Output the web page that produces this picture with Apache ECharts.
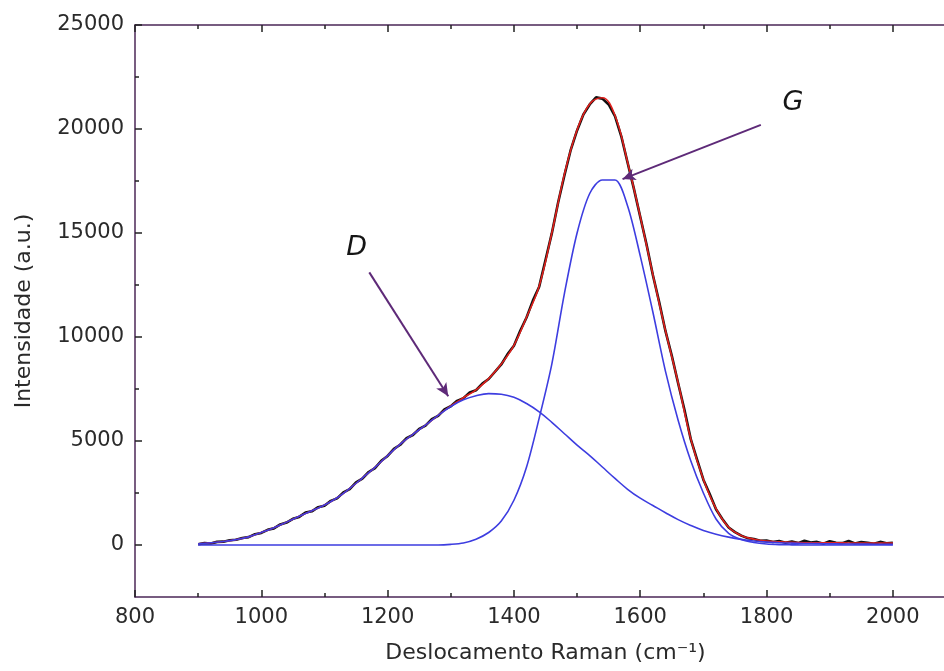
<!DOCTYPE html>
<html>
<head>
<meta charset="utf-8">
<title>Espectro Raman – bandas D e G</title>
<script src="https://cdn.jsdelivr.net/npm/echarts@6/dist/echarts.min.js"></script>
<style>
  html, body { margin: 0; padding: 0; background: #ffffff; overflow: hidden; width: 944px; height: 671px; }
  /* the plot frame continues a little past the right edge of the page */
  #chart { width: 956px; height: 671px; }
</style>
</head>
<body>
<div id="chart"></div>
<script>
// Raman shift grid of the fitted curves (cm^-1)
const fitShift = [900,920,940,960,980,1000,1020,1040,1060,1080,
  1100,1120,1140,1160,1180,1200,1220,1240,1260,1280,
  1300,1320,1340,1360,1380,1400,1420,1440,1460,1480,
  1500,1520,1540,1560,1580,1600,1620,1640,1660,1680,
  1700,1720,1740,1760,1780,1800,1820,1840,1860,1880,
  1900,1920,1940,1960,1980,2000];

// Fitted D band
const dBand = [60,110,170,260,390,600,830,1100,1380,1650,
  1920,2270,2720,3220,3730,4300,4850,5320,5760,6230,
  6660,6980,7180,7280,7250,7100,6800,6400,5900,5350,
  4800,4300,3750,3200,2680,2250,1900,1550,1220,940,
  700,520,380,270,190,140,110,90,75,65,
  55,50,45,40,35,32];

// Fitted G band
const gBand = [0,0,0,0,0,0,0,0,0,0,
  0,0,0,0,0,0,0,0,0,0,
  30,100,280,600,1150,2150,3750,6100,8700,12100,
  15000,16900,17550,17550,16300,13900,11200,8350,6000,4050,
  2500,1250,560,260,120,50,20,8,0,0,
  0,0,0,0,0,0];

// Cumulative fit (D + G)
const fitSum = [60,110,170,260,390,600,830,1100,1380,1650,
  1920,2270,2720,3220,3730,4300,4850,5320,5760,6230,
  6690,7080,7460,8000,8700,9600,10950,12450,15000,17830,
  19950,21200,21500,20650,18400,15800,13000,10300,7800,5100,
  3150,1750,850,450,280,190,150,125,110,105,
  100,100,98,96,95,95];

// Measured spectrum
const measShift = [900,910,920,930,940,950,960,970,980,990,
  1000,1010,1020,1030,1040,1050,1060,1070,1080,1090,
  1100,1110,1120,1130,1140,1150,1160,1170,1180,1190,
  1200,1210,1220,1230,1240,1250,1260,1270,1280,1290,
  1300,1310,1320,1330,1340,1350,1360,1370,1380,1390,
  1400,1410,1420,1430,1440,1450,1460,1470,1480,1490,
  1500,1510,1520,1530,1540,1550,1560,1570,1580,1590,
  1600,1610,1620,1630,1640,1650,1660,1670,1680,1690,
  1700,1710,1720,1730,1740,1750,1760,1770,1780,1790,
  1800,1810,1820,1830,1840,1850,1860,1870,1880,1890,
  1900,1910,1920,1930,1940,1950,1960,1970,1980,1990,
  2000];
const measured = [40,90,70,150,160,230,250,340,380,520,
  580,730,800,990,1080,1260,1350,1560,1620,1820,
  1890,2120,2240,2530,2690,3010,3190,3510,3700,4050,
  4280,4620,4820,5140,5290,5580,5740,6050,6210,6520,
  6670,6930,7060,7330,7440,7760,7980,8330,8680,9180,
  9580,10300,10940,11750,12420,13700,14980,16470,17780,19000,
  19930,20700,21180,21520,21460,21180,20620,19650,18380,17120,
  15780,14450,12980,11680,10280,9100,7780,6500,5090,4100,
  3140,2450,1720,1250,840,620,450,330,290,200,
  210,140,190,110,170,90,200,120,150,60,
  180,110,90,190,70,140,110,60,150,80,
  100];

// Axis ticks
const yMajorTicks = [0,5000,10000,15000,20000,25000];
const yMinorTicks = [2500,7500,12500,17500,22500];

// Annotations: band names and arrow endpoints (data coordinates)
const bandLabels = [
  { name: 'D', at: [1151, 14300] },
  { name: 'G', at: [1842, 21260] }
];
const bandArrows = [
  { from: [1171, 13107], to: [1296, 7153] },
  { from: [1791, 20198], to: [1572, 17591] }
];

const pairs = (xs, ys) => xs.map((x, i) => [x, ys[i]]);
const plain = v => String(v);

const FONT = 'DejaVu Sans';
const AXIS_COLOR = '#4b2757';
const TEXT_COLOR = '#2a2a2a';

const chart = echarts.init(document.getElementById('chart'), null, { renderer: 'canvas' });

const xAxisBase = {
  type: 'value',
  min: 800,
  max: 2100,
  interval: 200,
  splitLine: { show: false },
  axisLine: { show: true, onZero: false, lineStyle: { color: AXIS_COLOR, width: 1.5 } },
  axisTick: { show: true, inside: true, length: 7, lineStyle: { color: '#222', width: 1.5 } },
  minorTick: { show: true, splitNumber: 2, length: 4, lineStyle: { color: '#222', width: 1.5 } }
};

chart.setOption({
  animation: false,
  backgroundColor: '#ffffff',
  grid: { left: 135, top: 25, right: 0, bottom: 74, containLabel: false },
  xAxis: [
    Object.assign({}, xAxisBase, {
      position: 'bottom',
      name: 'Deslocamento Raman (cm⁻¹)',
      nameLocation: 'middle',
      nameGap: 45,
      nameTextStyle: { fontFamily: FONT, fontSize: 22, color: TEXT_COLOR },
      axisLabel: { show: true, margin: 10, fontFamily: FONT, fontSize: 21, color: TEXT_COLOR, showMaxLabel: false, formatter: plain }
    }),
    Object.assign({}, xAxisBase, {
      position: 'top',
      axisLabel: { show: false }
    })
  ],
  yAxis: [
    {
      type: 'value',
      position: 'left',
      min: -2500,
      max: 25000,
      splitLine: { show: false },
      name: 'Intensidade (a.u.)',
      nameLocation: 'middle',
      nameGap: 100,
      nameTextStyle: { fontFamily: FONT, fontSize: 22, color: TEXT_COLOR },
      axisLine: { show: true, onZero: false, lineStyle: { color: AXIS_COLOR, width: 1.5 } },
      axisTick: { show: true, inside: true, length: 7, customValues: yMajorTicks, lineStyle: { color: '#222', width: 1.5 } },
      axisLabel: { show: true, margin: 11, fontFamily: FONT, fontSize: 21, color: TEXT_COLOR, customValues: yMajorTicks, formatter: plain }
    },
    {
      type: 'value',
      position: 'left',
      min: -2500,
      max: 25000,
      splitLine: { show: false },
      axisLine: { show: false },
      axisTick: { show: true, inside: true, length: 4, customValues: yMinorTicks, lineStyle: { color: '#222', width: 1.5 } },
      axisLabel: { show: false }
    }
  ],
  series: [
    {
      name: 'Medido',
      type: 'line',
      data: pairs(measShift, measured),
      showSymbol: false,
      lineStyle: { color: '#111111', width: 2.6 },
      silent: true,
      z: 2
    },
    {
      name: 'Ajuste',
      type: 'line',
      data: pairs(fitShift, fitSum),
      smooth: 0.4,
      showSymbol: false,
      lineStyle: { color: '#e0201c', width: 1.6 },
      silent: true,
      z: 3
    },
    {
      name: 'D',
      type: 'line',
      data: pairs(fitShift, dBand),
      smooth: 0.4,
      showSymbol: false,
      lineStyle: { color: '#3d3de0', width: 1.6 },
      silent: true,
      z: 4
    },
    {
      name: 'G',
      type: 'line',
      data: pairs(fitShift, gBand),
      smooth: 0.3,
      showSymbol: false,
      lineStyle: { color: '#3d3de0', width: 1.6 },
      silent: true,
      z: 4,
      markLine: {
        silent: true,
        symbol: ['none', 'arrow'],
        symbolSize: [9, 13],
        label: { show: false },
        lineStyle: { color: '#5e2a78', width: 2, type: 'solid' },
        emphasis: { disabled: true },
        data: bandArrows.map(a => [{ coord: a.from }, { coord: a.to }])
      },
      markPoint: {
        silent: true,
        symbol: 'circle',
        symbolSize: 0,
        label: {
          show: true,
          position: 'inside',
          fontFamily: FONT,
          fontStyle: 'italic',
          fontSize: 27,
          color: '#151515',
          formatter: p => p.name
        },
        data: bandLabels.map(l => ({ name: l.name, coord: l.at }))
      }
    }
  ]
});
</script>
</body>
</html>
